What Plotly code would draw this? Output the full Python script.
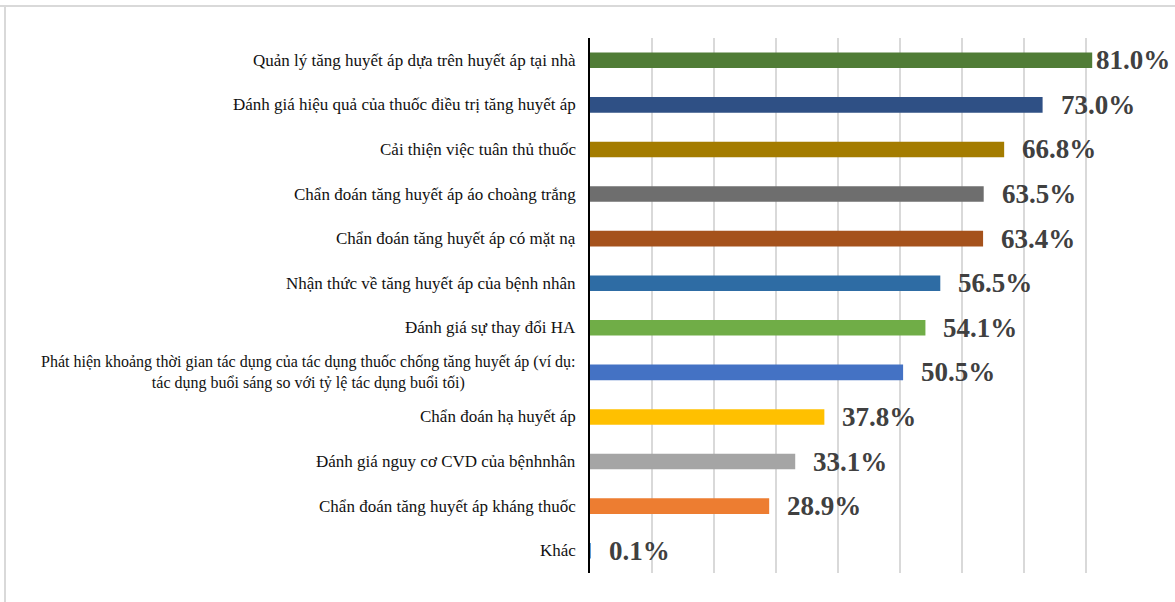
import plotly.graph_objects as go

categories = [
    "Quản lý tăng huyết áp dựa trên huyết áp tại nhà",
    "Đánh giá hiệu quả của thuốc điều trị tăng huyết áp",
    "Cải thiện việc tuân thủ thuốc",
    "Chẩn đoán tăng huyết áp áo choàng trắng",
    "Chẩn đoán tăng huyết áp có mặt nạ",
    "Nhận thức về tăng huyết áp của bệnh nhân",
    "Đánh giá sự thay đổi HA",
    "Phát hiện khoảng thời gian tác dụng của tác dụng thuốc chống tăng huyết áp (ví dụ:<br>tác dụng buổi sáng so với tỷ lệ tác dụng buổi tối)",
    "Chẩn đoán hạ huyết áp",
    "Đánh giá nguy cơ CVD của bệnhnhân",
    "Chẩn đoán tăng huyết áp kháng thuốc",
    "Khác",
]
values = [81.0, 73.0, 66.8, 63.5, 63.4, 56.5, 54.1, 50.5, 37.8, 33.1, 28.9, 0.1]
value_labels = ["81.0%", "73.0%", "66.8%", "63.5%", "63.4%", "56.5%", "54.1%",
                "50.5%", "37.8%", "33.1%", "28.9%", "0.1%"]
colors = ["#507C36", "#2F5085", "#A47C00", "#6E6E6E", "#A5521C", "#2E6CA4",
          "#70AD47", "#4472C4", "#FFC000", "#A5A5A5", "#ED7D31", "#5B9BD5"]

ids = list(range(len(categories)))

fig = go.Figure()
fig.add_trace(go.Bar(
    x=values, y=ids, orientation="h",
    marker=dict(color=colors, line=dict(width=0)),
    width=0.35, hoverinfo="skip",
))

annotations = []
for i, (cat, v, lab) in enumerate(zip(categories, values, value_labels)):
    annotations.append(dict(
        x=0, xref="paper", y=i, yref="y", text=cat, showarrow=False,
        xanchor="right", yanchor="middle", align="center", xshift=-12,
        font=dict(family="Liberation Serif", size=16 if "<br>" in cat else 17,
                  color="#111111"),
    ))
    annotations.append(dict(
        x=v, xref="x", y=i, yref="y", text="<b>" + lab + "</b>", showarrow=False,
        xanchor="left", yanchor="middle", xshift=2 if v > 78 else 16,
        font=dict(family="Liberation Serif", size=27, color="#404040"),
    ))

fig.update_layout(
    width=1175, height=602,
    margin=dict(l=590, r=27, t=38, b=29),
    paper_bgcolor="white", plot_bgcolor="white",
    showlegend=False,
    annotations=annotations,
    xaxis=dict(range=[0, 90], dtick=10, showticklabels=False, showgrid=True,
               gridcolor="#D9D9D9", gridwidth=2, zeroline=False, showline=False,
               fixedrange=True),
    yaxis=dict(range=[11.5, -0.5], showticklabels=False, showgrid=False,
               zeroline=False, showline=True, linecolor="black", linewidth=2,
               ticks="", fixedrange=True),
    shapes=[
        dict(type="line", xref="paper", yref="paper", x0=-590/558, x1=1.1,
             y0=1 + 32/535, y1=1 + 32/535, line=dict(color="#D9D9D9", width=2)),
        dict(type="line", xref="paper", yref="paper", x0=-585/558, x1=-585/558,
             y0=1 + 32/535, y1=-0.1, line=dict(color="#D9D9D9", width=2)),
    ],
)

fig.write_html("out.html")
